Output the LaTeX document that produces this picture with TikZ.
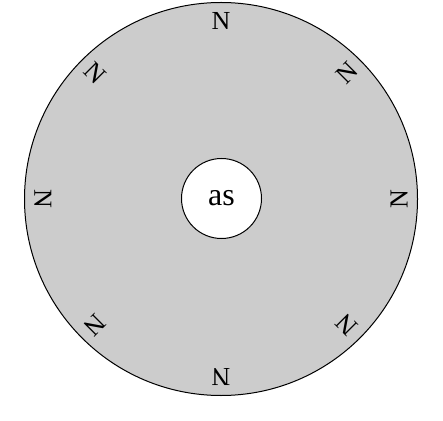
\documentclass[tikz,border=0pt]{standalone}
\usepackage{fontspec}
\setmainfont{Liberation Serif}
\usetikzlibrary{calc}
\begin{document}
\begin{tikzpicture}[x=1pt,y=1pt,
  ring/.style={circle,draw=black,line width=1pt,fill=black!20,minimum size=393pt,inner sep=0pt},
  hub/.style={circle,draw=black,line width=1pt,fill=white,minimum size=80pt,inner sep=0pt,font=\fontsize{32}{36}\selectfont},
  mark label/.style={inner sep=0pt,font=\fontsize{26}{29}\selectfont}]
\useasboundingbox (0,0) rectangle (443,420);
\node[ring] (outer) at (221,221) {};
\node[hub] (hub) at (221.5,221.5) {as};
\foreach \a [count=\i] in {0,45,...,315}{
  \node[mark label,rotate=90-\a] (n\i) at ($(outer.center)+(\a:178)$) {N};
}
\end{tikzpicture}
\end{document}
